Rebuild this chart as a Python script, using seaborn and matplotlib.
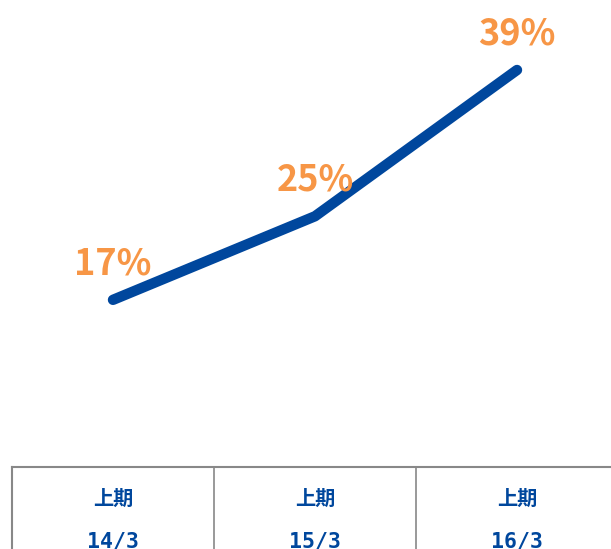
import numpy as np
import pandas as pd
import seaborn as sns
import matplotlib.pyplot as plt

periods = ["上期", "上期", "上期"]
dates = ["14/3", "15/3", "16/3"]
ratio = [17, 25, 39]

df = pd.DataFrame({"x": np.arange(len(ratio)), "ratio": ratio})

sns.set_style("white")
plt.rcParams['font.family'] = ['Noto Sans CJK JP', 'DejaVu Sans']

W, H = 611, 549
fig = plt.figure(figsize=(W / 100, H / 100), dpi=100)

# line chart area
top_tbl = 467
ax = fig.add_axes([12 / W, (H - top_tbl) / H, 606 / W, top_tbl / H])
sns.lineplot(data=df, x="x", y="ratio", ax=ax, color="#00479D", linewidth=7.5,
             solid_capstyle="round")
ax.set_xlim(-0.5, 2.5)
ax.set_ylim(1.0, 45.7)
ax.axis("off")
for i, v in enumerate(ratio):
    ax.annotate(f"{v}%", (i, v), xytext=(0, 26), textcoords="offset points",
                ha="center", va="center", fontsize=26, fontweight="bold",
                color="#F79646")

# table under the chart
tb = fig.add_axes([12 / W, 0, 606 / W, (H - top_tbl) / H])
tb.set_xlim(-0.5, 2.5)
tb.set_ylim(0, 1)
tb.set_xticks([])
tb.set_yticks([])
for s in ["right", "bottom"]:
    tb.spines[s].set_visible(False)
for s in ["top", "left"]:
    tb.spines[s].set_color("#888888")
    tb.spines[s].set_linewidth(1.5)
for xv in [0.5, 1.5]:
    tb.axvline(xv, color="#888888", linewidth=1.2)
for i in range(len(dates)):
    tb.text(i, 0.62, periods[i], ha="center", va="center", fontsize=14.5,
            fontweight="bold", color="#00479D")
    tb.text(i, 0.09, dates[i], ha="center", va="center", fontsize=15.5,
            fontweight="bold", color="#00479D", family="DejaVu Sans Mono")

fig.savefig("out.png", dpi=100)
